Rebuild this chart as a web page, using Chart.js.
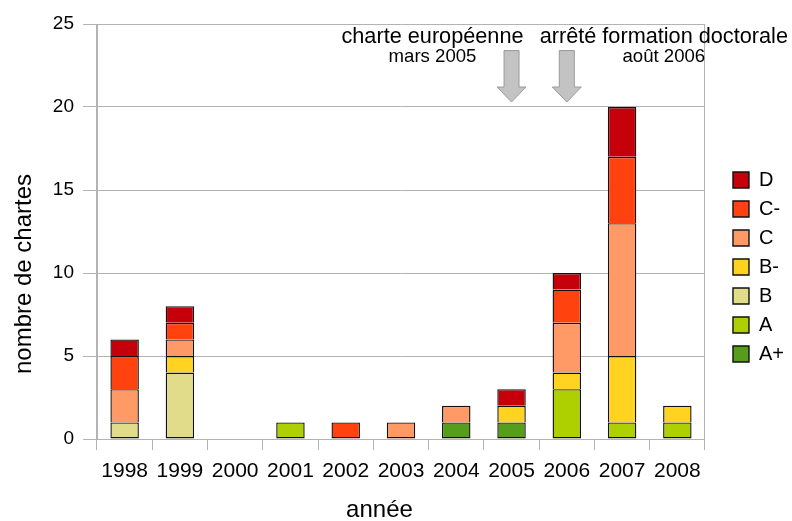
<!DOCTYPE html>
<html><head><meta charset="utf-8">
<script src="https://cdn.jsdelivr.net/npm/chart.js@4.4.0/dist/chart.umd.min.js"></script>
<style>html,body{margin:0;padding:0;background:#fff}#wrap{width:792px;height:521px}</style>
</head><body><div id="wrap"><canvas id="c" width="792" height="521"></canvas></div>
<script>
// ---- data ----
const years = ['1998','1999','2000','2001','2002','2003','2004','2005','2006','2007','2008'];
const gradeAplus  = [0,0,0,0,0,0,1,1,0,0,0];
const gradeA      = [0,0,0,1,0,0,0,0,3,1,1];
const gradeB      = [1,4,0,0,0,0,0,0,0,0,0];
const gradeBminus = [0,1,0,0,0,0,0,1,1,4,1];
const gradeC      = [2,1,0,0,0,1,1,0,3,8,0];
const gradeCminus = [2,1,0,0,1,0,0,0,2,4,0];
const gradeD      = [1,1,0,0,0,0,0,1,1,3,0];
const seriesNames = ['A+','A','B','B-','C','C-','D'];
const yTicksMax = 25, yTicksStep = 5;
const events = [
  {year:'2005', title:'charte européenne', date:'mars 2005'},
  {year:'2006', title:'arrêté formation doctorale', date:'août 2006'}
];
const arrowTopValue = 23.4, arrowTipValue = 20.3;

// ---- styles ----
const seriesValues = [gradeAplus, gradeA, gradeB, gradeBminus, gradeC, gradeCminus, gradeD];
const seriesColors = ['#579d1c','#aecf00','#e0dc8a','#ffd320','#ff9966','#ff420e','#c5000b'];
const textShift = [-1.43, 1.755];
const FONT = 'Liberation Sans';
Chart.defaults.font.family = FONT;
Chart.defaults.color = '#000';
const GRID = '#b3b3b3';

const datasets = seriesNames.map((n, k) => ({
  label: n,
  data: seriesValues[k],
  backgroundColor: seriesColors[k],
  borderColor: '#111',
  borderWidth: 1.4,
  borderSkipped: (ctx) => {
    const i = ctx.dataIndex;
    if (i === undefined) return false;
    for (let j = 0; j < k; j++) if (seriesValues[j][i] > 0) return 'start';
    return false;
  },
  barPercentage: 0.515,
  categoryPercentage: 1
}));

const annotPlugin = {
  id: 'annot',
  afterDraw(chart) {
    const ctx = chart.ctx, xs = chart.scales.x, ys = chart.scales.y, ca = chart.chartArea;
    ctx.save();
    events.forEach((ev, n) => {
      const idx = years.indexOf(ev.year);
      const cx = xs.getPixelForValue(idx);
      const yTop = ys.getPixelForValue(arrowTopValue);
      const yTip = ys.getPixelForValue(arrowTipValue);
      const headLen = 15, sh = 7.5, hh = 14.5;
      ctx.beginPath();
      ctx.moveTo(cx - sh, yTop);
      ctx.lineTo(cx + sh, yTop);
      ctx.lineTo(cx + sh, yTip - headLen);
      ctx.lineTo(cx + hh, yTip - headLen);
      ctx.lineTo(cx, yTip);
      ctx.lineTo(cx - hh, yTip - headLen);
      ctx.lineTo(cx - sh, yTip - headLen);
      ctx.closePath();
      ctx.fillStyle = '#c3c3c3';
      ctx.fill();
      ctx.strokeStyle = '#9a9a9a';
      ctx.lineWidth = 1;
      ctx.stroke();
      const tx = xs.getPixelForValue(idx + textShift[n]);
      ctx.fillStyle = '#000';
      ctx.textAlign = 'center';
      ctx.textBaseline = 'alphabetic';
      ctx.font = '21.7px "' + FONT + '"';
      ctx.fillText(ev.title, tx, ca.top + 19);
      ctx.font = '18.6px "' + FONT + '"';
      ctx.fillText(ev.date, tx, ca.top + 38);
    });
    // axis titles
    ctx.font = '24px "' + FONT + '"';
    ctx.textAlign = 'center';
    ctx.textBaseline = 'middle';
    ctx.fillText('année', (ca.left + ca.right) / 2 - 21.5, ca.bottom + 71);
    ctx.translate(24, ca.top + 250);
    ctx.rotate(-Math.PI / 2);
    ctx.fillText('nombre de chartes', 0, 0);
    ctx.restore();
  }
};

new Chart(document.getElementById('c'), {
  type: 'bar',
  data: { labels: years, datasets },
  options: {
    responsive: false,
    animation: false,
    devicePixelRatio: 1,
    layout: { padding: { top: 24, left: 0, right: -2, bottom: 11 } },
    scales: {
      x: {
        stacked: true,
        offset: true,
        grid: {
          offset: true,
          color: (c) => (c.type === 'tick' && c.index > 0) ? 'rgba(0,0,0,0)' : GRID,
          tickColor: GRID,
          tickLength: 11,
          lineWidth: 1
        },
        border: { color: GRID },
        ticks: { font: { size: 21 }, color: '#000', padding: 9, maxRotation: 0, autoSkip: false },
        afterFit: (s) => { s.height = 71; }
      },
      y: {
        stacked: true,
        min: 0,
        max: yTicksMax,
        ticks: { stepSize: yTicksStep, font: { size: 19 }, color: '#000', padding: 9 },
        grid: { color: GRID, tickColor: GRID, tickLength: 14 },
        border: { color: GRID },
        afterFit: (s) => { s.width = 97; }
      },
      y2: {
        position: 'right',
        display: true,
        grid: { display: false },
        border: { display: false },
        ticks: { display: false },
        afterFit: (s) => { s.width = 19; }
      }
    },
    plugins: {
      legend: {
        position: 'right',
        reverse: true,
        labels: { boxWidth: 16, boxHeight: 16, padding: 9, color: '#000', font: { size: 20 } }
      },
      tooltip: { enabled: false }
    }
  },
  plugins: [annotPlugin]
});
</script>
</body></html>
